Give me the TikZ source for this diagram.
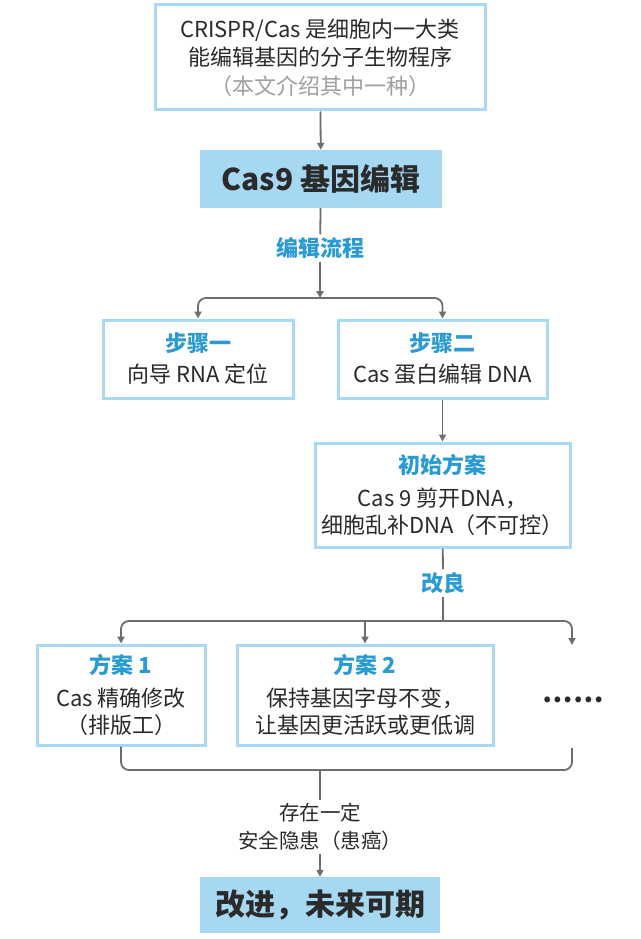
\documentclass[tikz,border=0pt]{standalone}
\usepackage{fontspec}
\setmainfont{Noto Sans CJK SC}
\usetikzlibrary{arrows.meta}
\definecolor{boxblue}{HTML}{A8DBF3}
\definecolor{fillblue}{HTML}{A6D8F2}
\definecolor{titleblue}{HTML}{2A9AD4}
\definecolor{txt}{HTML}{2A2A2A}
\definecolor{greytxt}{HTML}{A0A0A0}
\definecolor{linegrey}{HTML}{6E6E6E}
\newcommand\steptitle[1]{{\color{titleblue}\bfseries #1}}
\tikzset{
  box/.style={draw=boxblue, line width=3pt, fill=white, align=center, inner sep=0pt, text=txt, font=\fontsize{22}{27}\selectfont},
  solidbox/.style={fill=fillblue, align=center, inner sep=0pt, text=txt, font=\fontsize{30}{36}\selectfont\bfseries},
  conn/.style={draw=linegrey, line width=1.8pt},
  arr/.style={conn, -{Triangle[length=7pt,width=7pt]}},
  lbl/.style={text=titleblue, font=\fontsize{22}{26}\selectfont\bfseries, inner sep=3pt},
  plainlbl/.style={text=txt, align=center, font=\fontsize{20.5}{28}\selectfont, inner sep=3pt},
}
\begin{document}
\begin{tikzpicture}[x=1pt,y=-1pt]
\fill[white] (0,0) rectangle (640,939);
\useasboundingbox (0,0) rectangle (640,939);

\node[box, minimum width=330pt, minimum height=105pt, font=\fontsize{22}{28.5}\selectfont] (top) at (320,57.5)
  {CRISPR/Cas 是细胞内一大类\\能编辑基因的分子生物程序\\{\color{greytxt}（本文介绍其中一种）}};
\node[solidbox, minimum width=242pt, minimum height=58pt] (cas9) at (321,179) {Cas9 基因编辑};
\node[lbl] (l1) at (320,248) {编辑流程};
\coordinate (b1) at (320,298);
\node[box, minimum width=190pt, minimum height=78pt] (s1) at (198,359)
  {\steptitle{步骤一}\\[4pt]向导 RNA 定位};
\node[box, minimum width=209pt, minimum height=78pt] (s2) at (442.5,359)
  {\steptitle{步骤二}\\[4pt]Cas 蛋白编辑 DNA};
\node[box, minimum width=255pt, minimum height=104pt] (init) at (442.5,495)
  {\steptitle{初始方案}\\[6pt]Cas 9 剪开DNA，\\细胞乱补DNA（不可控）};
\node[lbl] (l2) at (443,583) {改良};
\coordinate (b2) at (443,621);
\node[box, minimum width=168pt, minimum height=100pt] (p1) at (121,695)
  {\steptitle{方案 1}\\[6pt]Cas 精确修改\\（排版工）};
\node[box, minimum width=256pt, minimum height=100pt] (p2) at (365,695)
  {\steptitle{方案 2}\\[6pt]保持基因字母不变，\\让基因更活跃或更低调};
\node[text=txt, font=\fontsize{27}{30}\selectfont\bfseries, inner sep=0pt] (dots) at (573,700) {……};
\coordinate (dtop) at (572,645);
\coordinate (dbot) at (572,748);
\coordinate (b3) at (320,770);
\node[plainlbl] (l3) at (320,827) {存在一定\\安全隐患（患癌）};
\node[solidbox, minimum width=240pt, minimum height=56pt] (fin) at (320,905) {改进，未来可期};

\draw[arr] (top) -- (cas9);
\draw[conn] (cas9) -- (l1);
\draw[arr] (l1) -- (b1);
\draw[arr, rounded corners=8pt] (b1) -| (s1);
\draw[arr, rounded corners=8pt] (b1) -| (s2);
\draw[arr] (s2) -- (init);
\draw[conn] (init) -- (l2);
\draw[conn] (l2) -- (b2);
\draw[arr, rounded corners=8pt] (b2) -| (p1);
\draw[arr] (b2) -| (p2);
\draw[arr, rounded corners=8pt] (b2) -| (dtop);
\draw[conn, rounded corners=8pt] (p1.south) |- (b3) -| (dbot);
\draw[conn] (b3) -- (l3);
\draw[arr] (l3) -- (fin);
\end{tikzpicture}
\end{document}
